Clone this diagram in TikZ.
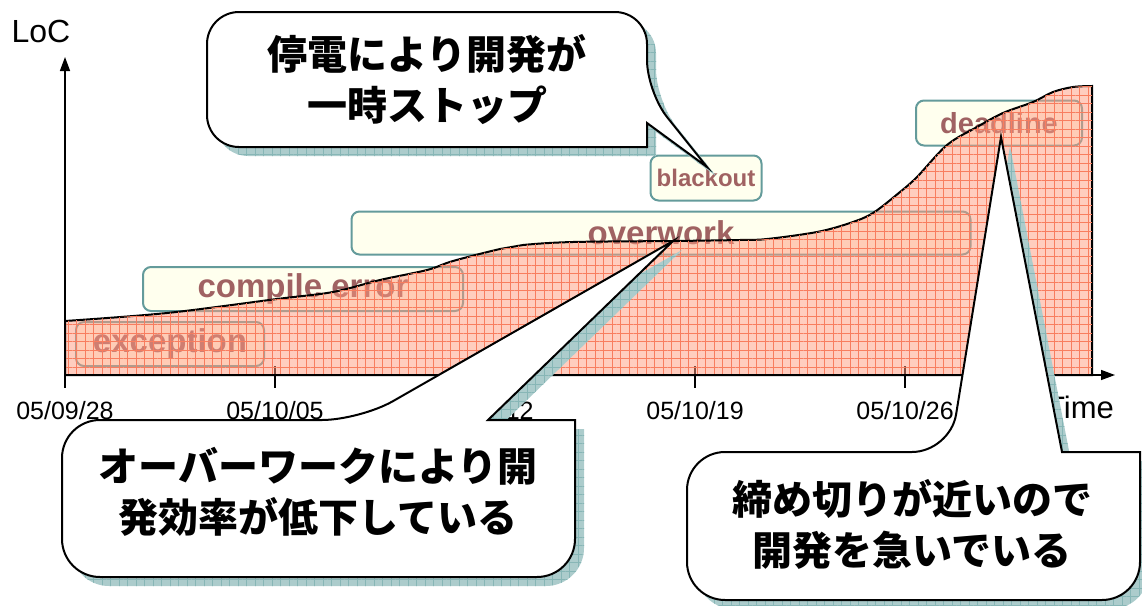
\documentclass[tikz,border=0pt]{standalone}
\usepackage{fontspec}
\setmainfont{Liberation Sans}
\newfontfamily\jpfont{Noto Sans CJK JP}
\usetikzlibrary{arrows.meta,patterns.meta}
\definecolor{boxfill}{RGB}{255,255,238}
\definecolor{boxline}{RGB}{100,155,155}
\definecolor{lbltext}{RGB}{160,98,98}
\definecolor{areafill}{RGB}{255,155,128}
\definecolor{areagrid}{RGB}{248,125,95}
\definecolor{shdfill}{RGB}{172,204,204}
\definecolor{shdgrid}{RGB}{135,182,182}
\begin{document}
\begin{tikzpicture}[
x=1pt,
y=-1pt,
lbl/.style={%
draw=boxline,
line width=2pt,
rounded corners=8pt,
fill=boxfill,
text=lbltext,
inner sep=0pt,
minimum height=44pt,
font=\bfseries\fontsize{33}{33}\selectfont,
},
area/.style={%
draw=black,
line width=2pt,
fill=areafill,
fill opacity=.5,
postaction={pattern={Hatch[angle=0,distance=8.5pt,line width=.3pt]},pattern color=areagrid},
},
axis/.style={%
line width=1.4pt,
arrows=-{Triangle[length=14pt,width=10pt]},
},
tick/.style={%
line width=1.4pt,
},
callout/.style={%
draw=black,
line width=2pt,
fill=white,
preaction={fill=shdfill,transform canvas={shift={(9,9)}}},
preaction={pattern={Hatch[angle=0,distance=8.5pt,line width=.3pt]},pattern color=shdgrid,transform canvas={shift={(9,9)}}},
},
jp/.style={%
align=center,
font=\jpfont\bfseries\fontsize{40}{51}\selectfont,
},
]
\useasboundingbox (0,0) rectangle (1142,605);
%% Labels
\node[lbl, minimum width=188pt]at(170,344)(exc){exception};
\node[lbl, minimum width=320pt]at(303,289)(cerr){compile error};
\node[lbl, minimum width=619pt, minimum height=43pt]at(661,233)(ovw){overwork};
\node[lbl, minimum width=111pt, minimum height=45pt, font=\bfseries\fontsize{24}{24}\selectfont]at(706,178)(blk){blackout};
\node[lbl, minimum width=166pt, minimum height=45pt, font=\bfseries\fontsize{29}{29}\selectfont]at(999,123)(ddl){deadline};
%% Ticks
\foreach \i in {0,...,4}{%
\draw[tick](65+210*\i,366)--(65+210*\i,388);
}
%% LoC area
\coordinate(o)at(65,375);
\coordinate(ytop)at(65,57);
\coordinate(xend)at(1115,375);
\draw[area](o)--plot[smooth,tension=.55]coordinates{(65,321) (167,313) (277,299) (333,292) (380,280) (427,270) (453,261) (500,249) (523,245) (573,242) (673,241) (740,240) (767,239) (817,232) (850,223) (873,213) (900,192) (917,177) (947,145) (977,127) (1003,113) (1033,102) (1053,92) (1073,87) (1092,86)}--(1092,375)--cycle;
%% Axes
\draw[axis](o)--(ytop);
\draw[axis](o)--(xend);
\node[font=\fontsize{32}{32}\selectfont]at(41,31)(loc){LoC};
\node[font=\fontsize{31}{31}\selectfont]at(1080,407)(time){Time};
\foreach \d [count=\i from 0] in {05/09/28,05/10/05,05/10/12,05/10/19,05/10/26}{%
\node[font=\fontsize{25}{25}\selectfont]at(65+210*\i,411)(t\i){\d};
}
%% Callouts
\coordinate(blktip)at(707,167);
\coordinate(ovwtip)at(673,241);
\coordinate(ddltip)at(1001,137);
\draw[callout](427,12)[rounded corners=32pt]--(647,12)--(647,92)[sharp corners]--(blktip)--(647,123)--(647,147)[rounded corners=32pt]--(207,147)--(207,12)--cycle;
\node[jp]at(427,80)(stop){停電により開発が\\一時ストップ};
\draw[callout](318,577)[rounded corners=38pt]--(62,577)--(62,420)--(360,420)[sharp corners]--(ovwtip)--(488,420)--(575,420)[rounded corners=38pt]--(575,577)--cycle;
\node[jp]at(318,492)(slow){オーバーワークにより開\\発効率が低下している};
\draw[callout](913,600)[rounded corners=38pt]--(687,600)--(687,452)--(950,452)[sharp corners]--(ddltip)--(1062,452)--(1140,452)[rounded corners=38pt]--(1140,600)--cycle;
\node[jp]at(912,524)(rush){締め切りが近いので\\開発を急いでいる};
\end{tikzpicture}
\end{document}
